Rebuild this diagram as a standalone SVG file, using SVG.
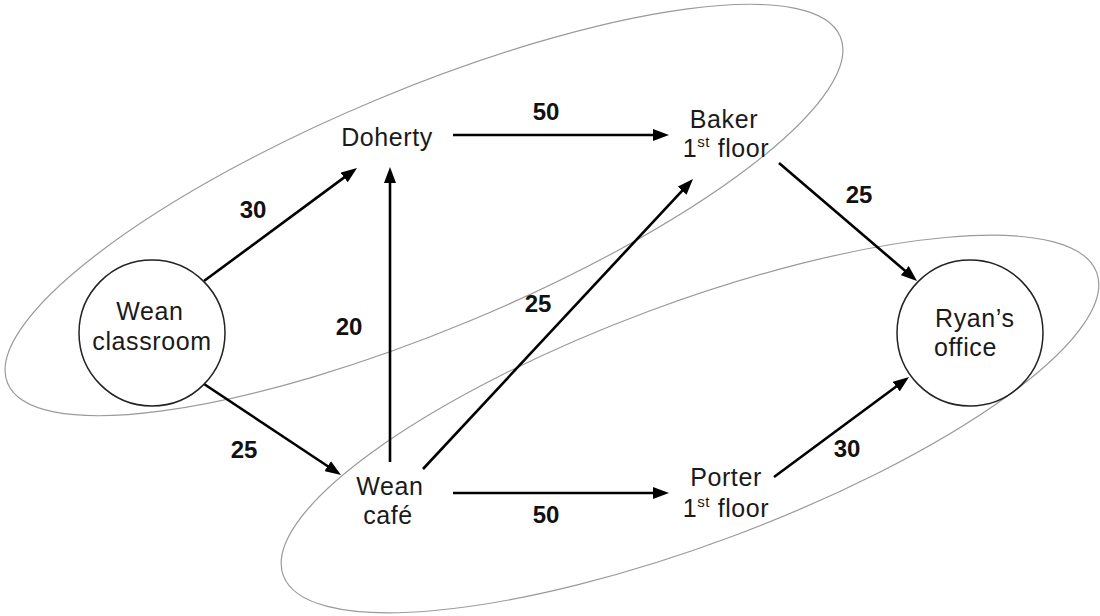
<svg xmlns="http://www.w3.org/2000/svg" width="1100" height="616" viewBox="0 0 1100 616">
<style>
.cluster{fill:none;stroke:#9a9a9a;stroke-width:1.2}
.circ{fill:none;stroke:#222;stroke-width:1.5}
.node{font-family:"Liberation Sans",Arial,sans-serif;font-size:25px;letter-spacing:0.6px;fill:#1a1a1a;text-anchor:middle}
.edge{stroke:#000;stroke-width:2.6;fill:none;marker-end:url(#ah)}
.lbl{font-family:"Liberation Sans",Arial,sans-serif;font-size:24px;font-weight:bold;fill:#111;text-anchor:middle}
</style>
<defs>
<marker id="ah" markerUnits="userSpaceOnUse" markerWidth="16" markerHeight="12" refX="6" refY="6" orient="auto">
<path d="M0,0 L16,6 L0,12 z" fill="#000"/>
</marker>
</defs>
<rect width="1100" height="616" fill="#fff"/>
<g id="clusters">
<ellipse class="cluster" cx="424" cy="210" rx="451" ry="120" transform="rotate(-22.6 424 210)"/>
<ellipse class="cluster" cx="690" cy="424" rx="434" ry="120" transform="rotate(-20.45 690 424)"/>
</g>
<g id="connectors">
<line class="edge" x1="204" y1="281" x2="349" y2="173.9"/>
<line class="edge" x1="453" y1="135" x2="659" y2="135"/>
<line class="edge" x1="390" y1="462" x2="390" y2="177"/>
<line class="edge" x1="423" y1="469" x2="686.2" y2="186.3"/>
<line class="edge" x1="779" y1="163" x2="909.4" y2="274.5"/>
<line class="edge" x1="204" y1="384" x2="332.7" y2="469.5"/>
<line class="edge" x1="453" y1="493" x2="659" y2="493"/>
<line class="edge" x1="774" y1="477" x2="901" y2="383"/>
<text class="lbl" x="253" y="218">30</text>
<text class="lbl" x="546" y="120">50</text>
<text class="lbl" x="349" y="335">20</text>
<text class="lbl" x="538" y="312">25</text>
<text class="lbl" x="859" y="203">25</text>
<text class="lbl" x="244" y="458">25</text>
<text class="lbl" x="546" y="523">50</text>
<text class="lbl" x="847" y="457">30</text>
</g>
<g id="n-classroom">
<circle class="circ" cx="152" cy="333" r="73"/>
<text class="node" x="150" y="320">Wean</text>
<text class="node" x="152" y="350">classroom</text>
</g>
<g id="n-doherty">
<text class="node" x="387" y="146">Doherty</text>
</g>
<g id="n-baker">
<text class="node" x="724" y="128">Baker</text>
<text class="node" x="726" y="157">1<tspan font-size="15" dy="-10">st</tspan><tspan dy="10"> floor</tspan></text>
</g>
<g id="n-cafe">
<text class="node" x="390" y="495">Wean</text>
<text class="node" x="388" y="524">café</text>
</g>
<g id="n-porter">
<text class="node" x="726" y="486">Porter</text>
<text class="node" x="726" y="517">1<tspan font-size="15" dy="-10">st</tspan><tspan dy="10"> floor</tspan></text>
</g>
<g id="n-ryan">
<circle class="circ" cx="970" cy="333" r="73"/>
<text class="node" x="935" y="327" style="text-anchor:start">Ryan’s</text>
<text class="node" x="934" y="356" style="text-anchor:start">office</text>
</g>
</svg>
